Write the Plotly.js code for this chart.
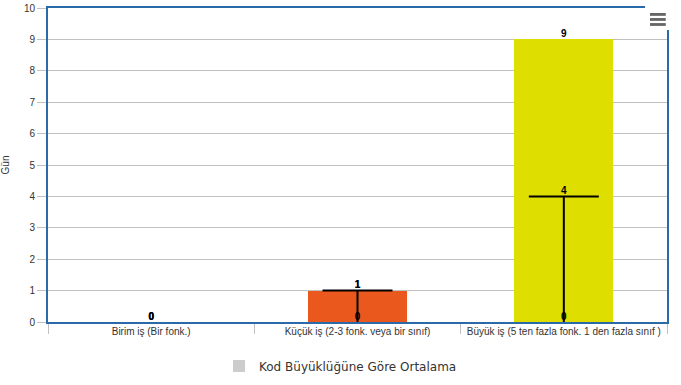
<!DOCTYPE html>
<html>
<head>
<meta charset="utf-8">
<script src="https://cdn.plot.ly/plotly-3.0.1.min.js"></script>
<style>html,body{margin:0;padding:0;background:#fff;}#chart{width:681px;height:385px;}</style>
</head>
<body>
<div id="chart"></div>
<script>
const categories = ["Birim iş (Bir fonk.)", "Küçük iş (2-3 fonk. veya bir sınıf)", "Büyük iş (5 ten fazla fonk. 1 den fazla sınıf )"];
const averages = [0, 1, 9];
const errLow = [0, 0, 0];
const errHigh = [0, 1, 4];
const barColors = ["#cccccc", "#ea581e", "#dede00"];
const seriesName = "Kod Büyüklüğüne Göre Ortalama";
const yTitle = "Gün";

const font = "Arial, 'Liberation Sans', sans-serif";
const labelFont = {family: font, size: 10, color: "#000", weight: "bold"};

const barTrace = {
  type: "bar", x: categories, y: averages, name: seriesName,
  marker: {color: barColors}, width: 0.48, hoverinfo: "x+y",
  showlegend: true
};
const barLabels = {
  type: "scatter", mode: "text", x: categories, y: averages,
  text: averages.map(String), textposition: "top center",
  textfont: labelFont, cliponaxis: false, showlegend: false, hoverinfo: "skip"
};
const errStem = {
  type: "scatter", mode: "markers", x: categories, y: errHigh,
  marker: {size: 0.1, color: "rgba(0,0,0,0)"},
  error_y: {type: "data", symmetric: false, array: errHigh.map(() => 0),
    arrayminus: errHigh.map((h, i) => h - errLow[i]),
    color: "#000", thickness: 2, width: 0},
  showlegend: false, hoverinfo: "skip"
};
const errCap = {
  type: "scatter", mode: "markers", x: categories, y: errHigh,
  marker: {symbol: "line-ew", size: 50, color: "#000",
    opacity: errHigh.map((h, i) => (h > errLow[i] ? 1 : 0)),
    line: {width: 2, color: "#000"}},
  cliponaxis: false, showlegend: false, hoverinfo: "skip"
};
const errLabelsHigh = {
  type: "scatter", mode: "text", x: categories, y: errHigh,
  text: errHigh.map(String), textposition: "top center",
  textfont: labelFont, cliponaxis: false, showlegend: false, hoverinfo: "skip"
};
const errLabelsLow = {
  type: "scatter", mode: "text", x: categories, y: errLow,
  text: errLow.map(String), textposition: "top center",
  textfont: labelFont, cliponaxis: false, showlegend: false, hoverinfo: "skip"
};

const layout = {
  width: 681, height: 385,
  margin: {l: 48, r: 14, t: 8, b: 63},
  paper_bgcolor: "#fff", plot_bgcolor: "#fff",
  font: {family: font, size: 10, color: "#444"},
  bargap: 0,
  xaxis: {
    type: "category", showgrid: false, zeroline: false, automargin: false,
    showline: true, linecolor: "#2a6aa8", linewidth: 2, mirror: true,
    ticks: "outside", tickson: "boundaries", ticklen: 10, tickcolor: "#c0c0c0",
    tickangle: 0, ticklabelstandoff: -1,
    tickfont: {family: font, size: 10, color: "#333"}
  },
  yaxis: {
    range: [0, 10], dtick: 1, showgrid: true, gridcolor: "#c0c0c0", gridwidth: 1,
    zeroline: false, showline: true, linecolor: "#2a6aa8", linewidth: 2, mirror: true,
    ticks: "outside", ticklen: 9, tickcolor: "#c0c0c0", automargin: false,
    tickfont: {family: font, size: 10, color: "#333"},
    title: {text: yTitle, font: {family: font, size: 10, color: "#333"}, standoff: 14}
  },
  showlegend: true,
  legend: {orientation: "h", x: 0.5, xanchor: "center", xref: "container",
    y: 0.012, yanchor: "bottom", yref: "container",
    font: {family: "'DejaVu Sans', sans-serif", size: 12, color: "#333"}},
  shapes: [
    {type: "rect", xref: "paper", yref: "paper", x0: 0.9645, x1: 1.01, y0: 0.93, y1: 1.01, fillcolor: "#fff", line: {width: 0}, layer: "above"},
    {type: "rect", xref: "paper", yref: "paper", x0: 0.9725, x1: 0.998, y0: 0.975, y1: 0.984, fillcolor: "#666", line: {width: 0}},
    {type: "rect", xref: "paper", yref: "paper", x0: 0.9725, x1: 0.998, y0: 0.959, y1: 0.968, fillcolor: "#666", line: {width: 0}},
    {type: "rect", xref: "paper", yref: "paper", x0: 0.9725, x1: 0.998, y0: 0.943, y1: 0.952, fillcolor: "#666", line: {width: 0}}
  ]
};

Plotly.newPlot("chart", [barTrace, errStem, errCap, barLabels, errLabelsHigh, errLabelsLow], layout, {displayModeBar: false, staticPlot: true});
</script>
</body>
</html>
